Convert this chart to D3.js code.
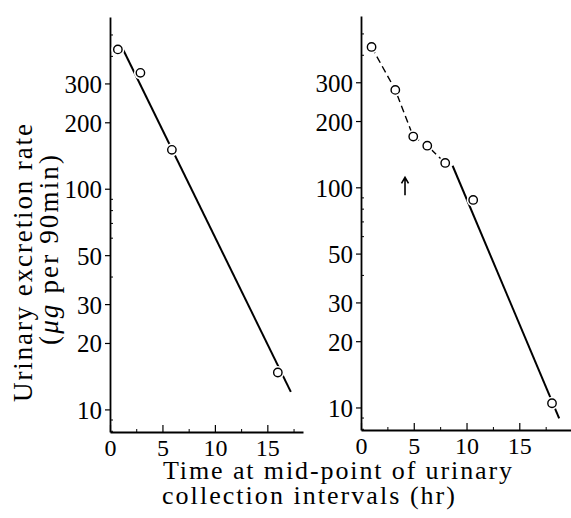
<!DOCTYPE html>
<html><head><meta charset="utf-8">
<script src="https://cdn.jsdelivr.net/npm/d3@7"></script>
<style>body{margin:0;background:#fff}svg{display:block}</style>
</head><body><svg id="c" width="571" height="518"></svg>
<script>
// ---- data ----
const yMajorTicks = [10, 20, 30, 50, 100, 200, 300];
const yMinorTicks = [8, 9, 40, 60, 70, 80, 90, 400, 500];
const xMajorTicks = [0, 5, 10, 15];
const xMinorTicks = [2.5, 7.5, 12.5, 17.5];

const leftTime = [0.75, 2.9, 5.9, 16.0];
const leftRate = [428, 335, 150, 14.7];
const leftFitTime = [1.27, 17.24];
const leftFitRate = [425, 12.0];

const rightTime = [1.0, 3.25, 4.95, 6.28, 7.98, 10.63, 18.1];
const rightRate = [434, 277, 170, 154.5, 129, 87.6, 10.45];
const rightEarlyTime = [1.0, 3.25, 4.95, 6.28, 7.98];
const rightEarlyRate = [434, 277, 170, 154.5, 129];
const rightFitTime = [8.68, 18.78];
const rightFitRate = [125.3, 8.93];
const arrowTime = [4.17, 4.17];
const arrowRate = [92, 111];

const yTitle1 = "Urinary excretion rate";
const xTitle1 = "Time at mid-point of urinary";
const xTitle2 = "collection intervals (hr)";

// ---- drawing ----
const FONT = "'Liberation Serif','DejaVu Serif',serif";
const svg = d3.select("#c");
svg.append("rect").attr("width", 571).attr("height", 518).attr("fill", "#fff");

function panel(xr, xd, yr) {
  const x = d3.scaleLinear().domain(xd).range(xr);
  const y = d3.scaleLog().domain([7.9, 600]).range(yr);
  const g = svg.append("g");
  // y axis
  const ya = g.append("g").attr("transform", `translate(${xr[0]},0)`)
    .call(d3.axisLeft(y).tickValues(yMajorTicks).tickFormat(d3.format("d"))
      .tickSize(5).tickSizeOuter(0).tickPadding(3));
  ya.select(".domain").attr("stroke-width", 1.8);
  ya.selectAll(".tick line").attr("stroke-width", 1.2);
  ya.selectAll("text").attr("font-family", FONT).attr("font-size", 25).attr("fill", "#000").attr("dy", "0.36em");
  g.append("g").attr("transform", `translate(${xr[0]},0)`)
    .call(d3.axisRight(y).tickValues(yMinorTicks).tickFormat("").tickSize(3).tickSizeOuter(0))
    .call(s => s.select(".domain").remove())
    .selectAll(".tick line").attr("stroke-width", 1);
  // x axis
  const xa = g.append("g").attr("transform", `translate(0,${yr[0]})`)
    .call(d3.axisBottom(x).tickValues(xMajorTicks).tickFormat(d3.format("d"))
      .tickSizeInner(-7).tickSizeOuter(0).tickPadding(7));
  xa.select(".domain").attr("stroke-width", 1.8);
  xa.selectAll(".tick line").attr("stroke-width", 1.2);
  xa.selectAll("text").attr("font-family", FONT).attr("font-size", 24).attr("fill", "#000").attr("dy", "0.72em");
  g.append("g").attr("transform", `translate(0,${yr[0]})`)
    .call(d3.axisBottom(x).tickValues(xMinorTicks).tickFormat("").tickSizeInner(-3).tickSizeOuter(0))
    .call(s => s.select(".domain").remove())
    .selectAll(".tick line").attr("stroke-width", 1);
  return {x, y, g};
}

function line(p, ts, rs, opts) {
  const pts = ts.map((t, i) => [t, rs[i]]);
  p.g.append("path").datum(pts)
    .attr("d", d3.line().x(d => p.x(d[0])).y(d => p.y(d[1])))
    .attr("fill", "none").attr("stroke", "#000")
    .attr("stroke-width", opts.w).attr("stroke-dasharray", opts.dash || null);
}
function points(p, ts, rs) {
  const pts = ts.map((t, i) => [t, rs[i]]);
  p.g.selectAll(null).data(pts).enter().append("circle")
    .attr("cx", d => p.x(d[0])).attr("cy", d => p.y(d[1])).attr("r", 6.5).attr("fill", "#fff");
  p.g.selectAll(null).data(pts).enter().append("circle")
    .attr("cx", d => p.x(d[0])).attr("cy", d => p.y(d[1])).attr("r", 4.2)
    .attr("fill", "#fff").attr("stroke", "#000").attr("stroke-width", 1.4);
}

const L = panel([110, 303], [0, 18.4], [432, 17]);
line(L, leftFitTime, leftFitRate, {w: 2});
points(L, leftTime, leftRate);

const R = panel([361, 571], [0, 19.9], [430, 16]);
line(R, rightEarlyTime, rightEarlyRate, {w: 1.4, dash: "7,4"});
line(R, rightFitTime, rightFitRate, {w: 2});
points(R, rightTime, rightRate);
// arrow
const ax = R.x(arrowTime[0]), ay0 = R.y(arrowRate[0]), ay1 = R.y(arrowRate[1]);
R.g.append("path")
  .attr("d", `M${ax},${ay0}L${ax},${ay1}M${ax - 3.5},${ay1 + 6}L${ax},${ay1}L${ax + 3.5},${ay1 + 6}`)
  .attr("fill", "none").attr("stroke", "#000").attr("stroke-width", 1.6);

// titles
const yt = svg.append("g").attr("font-family", FONT).attr("font-size", 27).attr("fill", "#000");
yt.append("text").attr("transform", "translate(32,263) rotate(-90)")
  .attr("text-anchor", "middle").attr("textLength", 278).attr("lengthAdjust", "spacing")
  .text(yTitle1);
const t2 = yt.append("text").attr("transform", "translate(58,250) rotate(-90)")
  .attr("text-anchor", "middle").attr("textLength", 190).attr("lengthAdjust", "spacing");
t2.append("tspan").text("(");
t2.append("tspan").attr("font-style", "italic").text("μg");
t2.append("tspan").text(" per 90min)");

const xt = svg.append("g").attr("font-family", FONT).attr("font-size", 26).attr("fill", "#000");
xt.append("text").attr("x", 163).attr("y", 479).attr("textLength", 349).attr("lengthAdjust", "spacing").text(xTitle1);
xt.append("text").attr("x", 162).attr("y", 504).attr("textLength", 293).attr("lengthAdjust", "spacing").text(xTitle2);
</script></body></html>
